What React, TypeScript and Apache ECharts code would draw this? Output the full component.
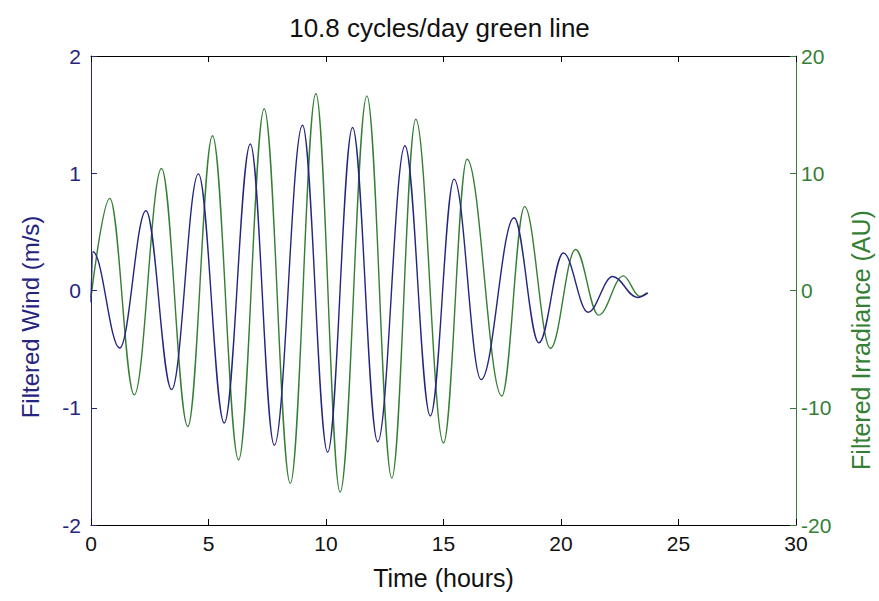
import React, { useEffect, useRef } from "react";
import * as echarts from "echarts";

// Filtered wind (m/s): turning points
const windHours = [0, 0.08, 1.22, 2.34, 3.43, 4.57, 5.67, 6.78, 7.8, 9.0, 10.07, 11.13, 12.2, 13.36, 14.44, 15.45, 16.6, 18.0, 19.06, 20.1, 21.15, 22.2, 23.25, 23.7];
const windValues = [-0.1, 0.33, -0.49, 0.68, -0.845, 0.995, -1.13, 1.25, -1.32, 1.41, -1.38, 1.39, -1.29, 1.235, -1.07, 0.95, -0.76, 0.62, -0.446, 0.32, -0.185, 0.12, -0.06, -0.02];

// Filtered irradiance (AU): turning points
const irrHours = [0, 0.8, 1.84, 3.0, 4.12, 5.17, 6.28, 7.37, 8.48, 9.57, 10.6, 11.74, 12.8, 13.82, 15.0, 16.0, 17.48, 18.45, 19.55, 20.62, 21.6, 22.65, 23.35, 23.65];
const irrValues = [-0.6, 7.86, -8.9, 10.4, -11.6, 13.2, -14.45, 15.5, -16.45, 16.8, -17.2, 16.6, -16.0, 14.6, -13.0, 11.2, -9.0, 7.15, -4.93, 3.5, -2.1, 1.25, -0.5, -0.2];

const titleText = "10.8 cycles/day green line";
const xName = "Time (hours)";
const leftName = "Filtered Wind (m/s)";
const rightName = "Filtered Irradiance (AU)";

const BLUE = "#25257f";
const GREEN = "#347f34";
const FONT = "'Liberation Sans', Arial, sans-serif";

export default function App() {
  const ref = useRef<HTMLDivElement>(null);
  useEffect(() => {
    if (!ref.current) return;
    const chart = echarts.init(ref.current, null, { renderer: "svg" });
    const windData = windHours.map((h, i) => [h, windValues[i]]);
    const irrData = irrHours.map((h, i) => [h, irrValues[i]]);
    chart.setOption({
      animation: false,
      backgroundColor: "#ffffff",
      textStyle: { fontFamily: FONT },
      title: {
        text: titleText,
        left: "center",
        top: 10,
        textStyle: { fontFamily: FONT, fontSize: 26, fontWeight: "normal", color: "#111" },
      },
      grid: { left: 91, right: 83, top: 56, bottom: 76, containLabel: false },
      xAxis: [
        {
          type: "value",
          min: 0,
          max: 30,
          interval: 5,
          position: "bottom",
          name: xName,
          nameLocation: "middle",
          nameGap: 40,
          nameTextStyle: { fontFamily: FONT, fontSize: 25, color: "#111" },
          axisLine: { show: true, onZero: false, lineStyle: { color: "#000", width: 1 } },
          axisTick: { show: true, inside: true, length: 6, lineStyle: { color: "#000" } },
          axisLabel: { fontFamily: FONT, fontSize: 21, color: "#111", margin: 8 },
          splitLine: { show: false },
        },
        {
          type: "value",
          min: 0,
          max: 30,
          interval: 5,
          position: "top",
          axisLine: { show: true, onZero: false, lineStyle: { color: "#000", width: 1 } },
          axisTick: { show: true, inside: true, length: 6, lineStyle: { color: "#000" } },
          axisLabel: { show: false },
          splitLine: { show: false },
        },
      ],
      yAxis: [
        {
          type: "value",
          min: -2,
          max: 2,
          interval: 1,
          position: "left",
          axisLine: { show: true, onZero: false, lineStyle: { color: BLUE, width: 1 } },
          axisTick: { show: true, inside: true, length: 6, lineStyle: { color: BLUE } },
          axisLabel: { fontFamily: FONT, fontSize: 21, color: BLUE, margin: 10 },
          splitLine: { show: false },
        },
        {
          type: "value",
          min: -20,
          max: 20,
          interval: 10,
          position: "right",
          axisLine: { show: true, onZero: false, lineStyle: { color: GREEN, width: 1 } },
          axisTick: { show: true, inside: true, length: 6, lineStyle: { color: GREEN } },
          axisLabel: { fontFamily: FONT, fontSize: 21, color: GREEN, margin: 5 },
          splitLine: { show: false },
        },
      ],
      graphic: [
        {
          type: "text",
          x: 30,
          y: 317,
          rotation: Math.PI / 2,
          style: { text: leftName, fontFamily: FONT, fontSize: 24, fill: BLUE, align: "center", verticalAlign: "middle" },
        },
        {
          type: "text",
          x: 861,
          y: 340,
          rotation: Math.PI / 2,
          style: { text: rightName, fontFamily: FONT, fontSize: 25, fill: GREEN, align: "center", verticalAlign: "middle" },
        },
      ],
      series: [
        {
          name: "Wind",
          type: "line",
          xAxisIndex: 0,
          yAxisIndex: 0,
          data: windData,
          showSymbol: false,
          smooth: 0.37,
          smoothMonotone: "x",
          lineStyle: { color: BLUE, width: 1.4 },
          itemStyle: { color: BLUE },
          z: 3,
        },
        {
          name: "Irradiance",
          type: "line",
          xAxisIndex: 0,
          yAxisIndex: 1,
          data: irrData,
          showSymbol: false,
          smooth: 0.37,
          smoothMonotone: "x",
          lineStyle: { color: GREEN, width: 1.4 },
          itemStyle: { color: GREEN },
          z: 2,
        },
      ],
    });
    return () => chart.dispose();
  }, []);
  return <div ref={ref} style={{ position: "absolute", left: 0, top: 0, width: 879, height: 601 }} />;
}
